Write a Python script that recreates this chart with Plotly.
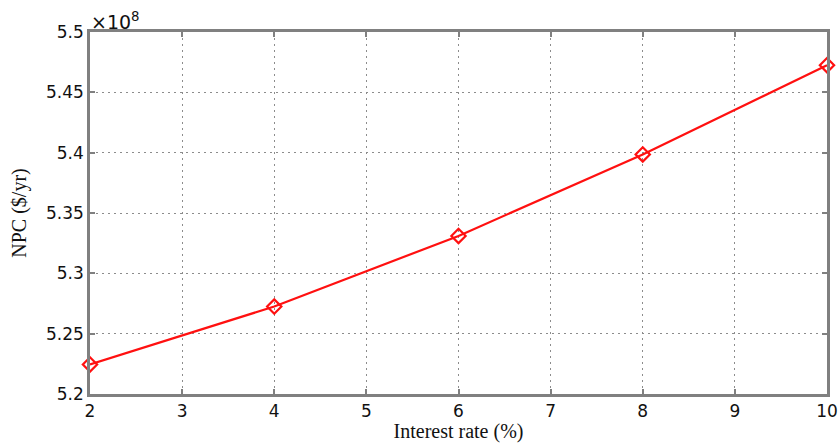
import plotly.graph_objects as go

# Net present cost vs. interest rate
interest_rate = [2, 4, 6, 8, 10]            # %
npc_e8 = [5.2245, 5.2725, 5.331, 5.3985, 5.4725]  # NPC in units of 1e8 $/yr

x_ticks = [2, 3, 4, 5, 6, 7, 8, 9, 10]
y_ticks = [5.2, 5.25, 5.3, 5.35, 5.4, 5.45, 5.5]
y_tick_labels = ["5.2", "5.25", "5.3", "5.35", "5.4", "5.45", "5.5"]

frame = "#808080"
grid = "#8c8c8c"
sans = "DejaVu Sans, Arial"
serif = "Liberation Serif, Times New Roman"

fig = go.Figure()
fig.add_trace(go.Scatter(
    x=interest_rate, y=npc_e8, mode="lines+markers",
    line=dict(color="#ff1010", width=2.2),
    marker=dict(symbol="diamond-open", size=11, color="#ff1010",
                line=dict(width=2.2, color="#ff1010")),
    showlegend=False, cliponaxis=False,
))

axis_common = dict(
    automargin=False,
    showline=True, linecolor=frame, linewidth=2.5, mirror="allticks",
    ticks="inside", ticklen=5, tickwidth=2, tickcolor=frame,
    showgrid=True, gridcolor=grid, gridwidth=1, griddash="2px,4px",
    zeroline=False,
    tickfont=dict(family=sans, size=17, color="#111111"),
)

fig.update_xaxes(
    range=[2, 10], tickvals=x_ticks,
    title=dict(text="Interest rate (%)", standoff=7,
               font=dict(family=serif, size=20, color="#111111")),
    **axis_common,
)
fig.update_yaxes(
    range=[5.2, 5.5], tickvals=y_ticks, ticktext=y_tick_labels,
    title=dict(text="NPC ($/yr)", standoff=14,
               font=dict(family=serif, size=20, color="#111111")),
    **axis_common,
)

fig.add_annotation(
    text="×10<sup>8</sup>", xref="paper", yref="paper", x=0, y=1,
    xanchor="left", yanchor="bottom", showarrow=False, xshift=-1, yshift=-3,
    font=dict(family=sans, size=19, color="#111111"),
)

fig.update_layout(
    width=838, height=443,
    margin=dict(l=90, r=11, t=32, b=49),
    plot_bgcolor="white", paper_bgcolor="white",
)

fig.write_html("out.html")
